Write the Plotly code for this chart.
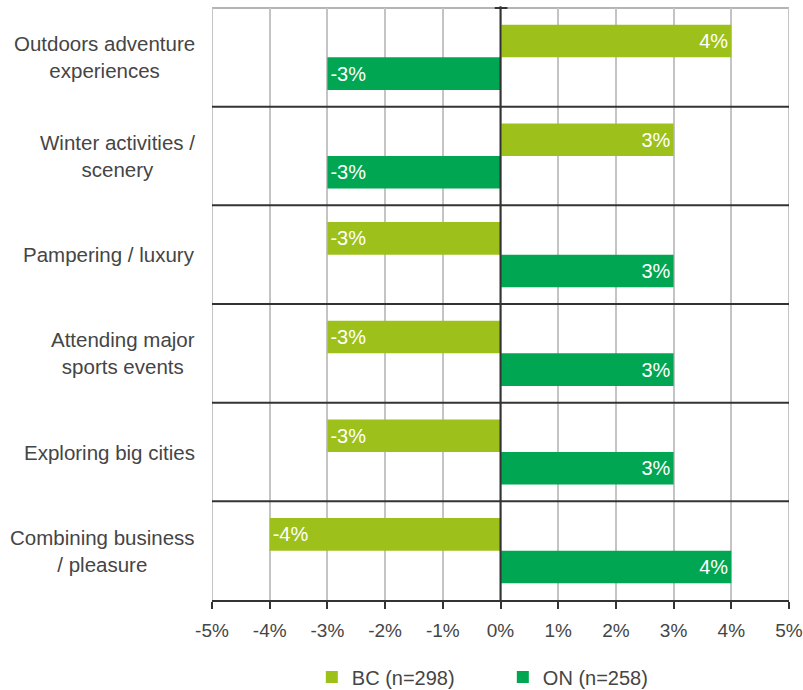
import plotly.graph_objects as go

categories = [
    "Outdoors adventure<br>experiences",
    "Winter activities /<br>scenery",
    "Pampering / luxury",
    "Attending major<br>sports events",
    "Exploring big cities",
    "Combining business<br>/ pleasure",
]
bc_values = [4, 3, -3, -3, -3, -4]
on_values = [-3, -3, 3, 3, 3, 4]
series_names = ["BC (n=298)", "ON (n=258)"]
x_ticks = [-5, -4, -3, -2, -1, 0, 1, 2, 3, 4, 5]
x_tick_labels = ["-5%", "-4%", "-3%", "-2%", "-1%", "0%", "1%", "2%", "3%", "4%", "5%"]

BC_COLOR = "#9DC11A"
ON_COLOR = "#00A651"
FONT = "Liberation Sans, Arial, sans-serif"
TXT = "#454545"

ids = list(range(len(categories)))

fig = go.Figure()
for name, vals, col in [(series_names[0], bc_values, BC_COLOR), (series_names[1], on_values, ON_COLOR)]:
    fig.add_trace(go.Bar(
        y=ids, x=vals, orientation="h", name=name,
        marker=dict(color=col, line=dict(width=0)),
        text=[f"{v}%" for v in vals],
        textposition="inside", insidetextanchor="end", constraintext="none",
        textfont=dict(color="white", size=20, family=FONT),
        hoverinfo="x+name",
    ))

shapes = []
for i in ids[:-1]:
    shapes.append(dict(type="line", xref="paper", yref="y", x0=0, x1=1, y0=i + 0.5, y1=i + 0.5,
                       line=dict(color="#333333", width=2), layer="above"))
shapes.append(dict(type="line", xref="paper", yref="paper", x0=0, x1=1, y0=1, y1=1,
                   line=dict(color="#b4b4b4", width=2), layer="below"))
for xv in (x_ticks[0], x_ticks[-1]):
    shapes.append(dict(type="line", xref="x", yref="paper", x0=xv, x1=xv, y0=0, y1=1,
                       line=dict(color="#c4c4c4", width=2), layer="below"))
shapes.append(dict(type="line", xref="x", yref="paper", x0=0, x1=0, y0=0, y1=1.003,
                   line=dict(color="#333333", width=2), layer="above"))
shapes.append(dict(type="line", xref="x", yref="paper", x0=-0.1, x1=0.12, y0=1.0, y1=1.0,
                   line=dict(color="#333333", width=2), layer="above"))

annotations = []
for i, c in zip(ids, categories):
    annotations.append(dict(
        x=-0.026, xref="paper", y=i, yref="y", text=c, showarrow=False,
        xanchor="right", yanchor="middle", align="center",
        font=dict(size=20.5, color=TXT, family=FONT),
    ))

fig.update_layout(
    width=803, height=690,
    margin=dict(l=212, r=14, t=8, b=90, autoexpand=False),
    paper_bgcolor="white", plot_bgcolor="white",
    barmode="group", bargap=0.34, bargroupgap=0,
    font=dict(family=FONT, size=20, color=TXT),
    xaxis=dict(
        range=[x_ticks[0], x_ticks[-1]], tickmode="array", tickvals=x_ticks, ticktext=x_tick_labels,
        showgrid=True, gridcolor="#c4c4c4", gridwidth=2,
        zeroline=False,
        showline=True, linecolor="#333333", linewidth=2,
        ticks="outside", ticklen=7, tickwidth=2, tickcolor="#333333",
        tickfont=dict(size=19, color=TXT, family=FONT),
        ticklabelstandoff=5, ticklabeloverflow="allow",
        fixedrange=True,
    ),
    yaxis=dict(
        range=[len(categories) - 0.5, -0.5], showticklabels=False,
        showgrid=False, zeroline=False, showline=False, ticks="",
        fixedrange=True,
    ),
    legend=dict(
        orientation="h", x=0.173, xanchor="left", y=-0.097, yanchor="top",
        font=dict(size=20, color=TXT, family=FONT),
        itemwidth=30, tracegroupgap=0, entrywidth=146,
    ),
    shapes=shapes,
    annotations=annotations,
)

fig.write_html("out.html", config={"displayModeBar": False},
               post_script="document.body.style.margin='0';")
